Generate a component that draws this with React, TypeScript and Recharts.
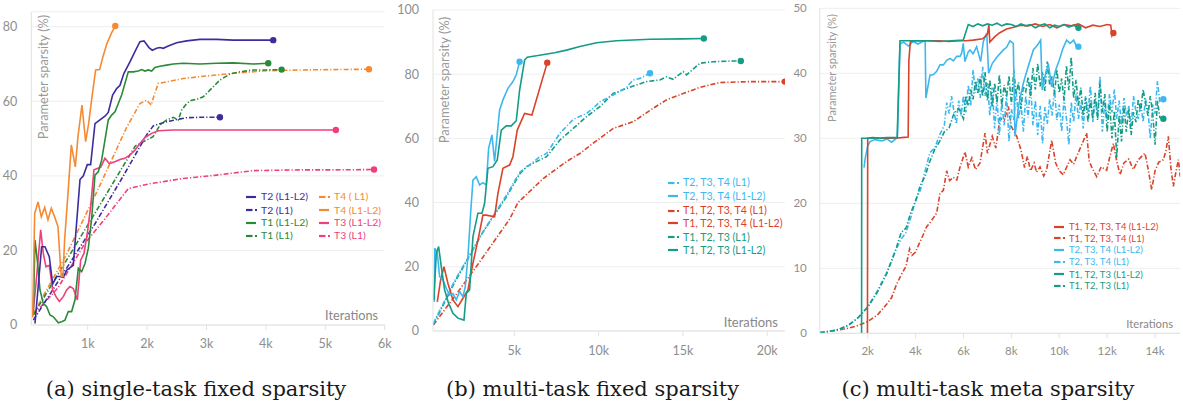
import React from 'react';
import { LineChart, Line, XAxis, YAxis, CartesianGrid } from 'recharts';

type P = [number, number];

// ---------- (a) single-task fixed sparsity ----------
const a_T2_L1L2: P[] = [[112,0.4],[224,21],[280,21],[353,18.3],[410,11],[477,13],[533,13],[589,12.8],[645,14.7],[757,16],[870,39],[926,40],[993,43],[1049,43],[1122,54],[1206,55],[1290,56],[1346,57],[1419,61.7],[1487,63.4],[1543,64.3],[1610,67.5],[1711,70.6],[1795,73.3],[1879,76],[1947,76.2],[2031,74.4],[2087,73.7],[2160,74.2],[2216,74.4],[2272,74.2],[2356,74.8],[2496,75.7],[2665,76.2],[2889,76.6],[3170,76.6],[3450,76.4],[3787,76.4],[4123,76.4]];
const a_T2_L1: P[] = [[84,1.3],[1117,27],[1600,40],[1992,51],[2104,53.4],[2216,54],[2328,54.5],[2496,55.1],[2665,55.6],[2889,55.7],[3226,55.7]];
const a_T1_L1L2: P[] = [[84,3],[112,22.8],[151,17.4],[196,9.4],[252,5.8],[309,4.9],[365,2.7],[421,2.2],[505,0.6],[561,0.9],[617,1.3],[673,3.6],[729,3.6],[785,6.7],[842,15.2],[898,14.3],[954,16.5],[1010,20.6],[1066,28.6],[1122,40.2],[1178,41.1],[1234,44.2],[1290,49.6],[1346,55],[1403,56.3],[1459,57.2],[1515,59.4],[1571,61.7],[1627,64.8],[1683,67.9],[1767,67.9],[1851,68.1],[1907,68.5],[1964,68.1],[2020,68.4],[2076,68.1],[2132,69.1],[2216,69.4],[2328,69.7],[2440,70],[2609,70.2],[2889,70],[3170,70.2],[3450,70.3],[3787,70],[4039,70.2]];
const a_T1_L1: P[] = [[84,2.7],[1122,30],[1800,48],[2100,50.5],[2216,53.6],[2328,55],[2440,55.7],[2524,55],[2580,57.6],[2665,59.4],[2749,60.3],[2833,60.5],[2945,61.2],[3114,63.9],[3226,65.7],[3394,67.3],[3563,67.9],[3787,68.4],[4011,68.4],[4264,68.5]];
const a_T4_L1: P[] = [[84,3],[645,19],[1206,37.5],[1655,53],[1880,59.4],[1990,60.3],[2070,59],[2110,61.2],[2188,64.8],[2328,65.2],[2609,66.1],[2889,66.6],[3450,67.5],[4011,68.2],[4572,68.4],[5130,68.5],[5735,68.6]];
const a_T4_L1L2: P[] = [[73,2],[107,29.9],[163,33],[219,29],[275,31.5],[331,28.2],[387,31.3],[443,29],[499,26.4],[539,16.5],[555,13],[583,13],[611,22.8],[668,35.3],[724,48.3],[791,42.4],[836,50.5],[903,59],[965,49.2],[1015,54],[1072,61.2],[1133,68.4],[1200,68.5],[1257,72],[1324,75.5],[1397,78.2],[1464,80.2]];
const a_T3_L1L2: P[] = [[84,4],[140,13],[208,25.5],[252,19.2],[297,15.6],[353,16],[410,9.4],[466,7.6],[522,6.3],[589,7.6],[645,9.4],[701,10.3],[757,9.8],[825,6.7],[881,17.4],[937,19.2],[993,24.6],[1049,31.7],[1105,41.6],[1161,42],[1217,42.3],[1290,44.7],[1363,43.3],[1459,43.8],[1543,44.4],[1627,44.7],[1711,45.6],[1795,46.9],[1879,48.7],[1964,50.3],[2076,51.4],[2188,52.1],[2440,52.3],[3450,52.3],[5178,52.3]];
const a_T3_L1: P[] = [[84,2.7],[500,10],[954,21.9],[1290,28.5],[1683,36.6],[2048,37.9],[2609,39.3],[3170,40.2],[3787,41.4],[4572,41.6],[5130,41.6],[5820,41.7]];

// ---------- (b) multi-task fixed sparsity ----------
const b_234_L1: P[] = [[200,2.4],[1500,16],[3162,31],[4500,42],[5335,49.5],[5730,51],[6520,54.3],[6916,55.3],[7706,61.6],[8497,65.9],[9287,67.8],[9682,69.4],[10078,71.4],[10868,73.5],[11658,75.9],[12054,78.2],[12449,78.7],[13049,80.3]];
const b_234_L1L2: P[] = [[250,9],[290,25.8],[435,24.2],[573,16.9],[771,15.9],[968,13.3],[1166,11.2],[1363,11.7],[1561,9.7],[1759,12.3],[1956,10.7],[2095,13.8],[2253,23.2],[2411,36.7],[2549,47],[2746,48.1],[2944,45.5],[3142,46.2],[3339,45.5],[3478,56.9],[3675,61.1],[3833,52.8],[3992,61.6],[4130,68.8],[4327,72],[4624,75.6],[4920,77.7],[5118,79.8],[5315,83.9]];
const b_1234_L1: P[] = [[198,1.9],[1500,11],[2944,21.5],[4742,35],[5217,40],[6718,47.5],[8102,52.8],[8892,55.3],[9682,58.5],[10868,63.1],[12054,65.2],[13240,69.4],[14030,72],[15018,74],[16006,75.9],[17191,77.4],[18970,77.7],[21044,77.7]];
const b_1234_L1L2: P[] = [[435,9.1],[632,15.9],[830,20],[1067,14.8],[1363,9.7],[1660,7.6],[1956,10.2],[2253,12.8],[2549,21.1],[2845,28.3],[3142,36.1],[3339,36.1],[3833,35.6],[4031,42.9],[4327,50.7],[4723,51.7],[4920,54.3],[5177,62.6],[5612,67.8],[6046,67.3],[6956,83.6]];
const b_123_L1: P[] = [[200,2],[1500,15.5],[3162,31],[4500,41.5],[5335,49],[5730,51.2],[6520,53.3],[6916,54.3],[7706,59.5],[8497,63.1],[9287,66.8],[10078,69.9],[10868,74],[12054,76.3],[12844,77.7],[13635,78.2],[14030,79.2],[14425,78.4],[15018,80.8],[15215,79.8],[16006,83.4],[16796,83.9],[17982,84.1],[18436,84.1]];
const b_123_L1L2: P[] = [[230,9.7],[375,24.2],[514,26.3],[672,20],[869,12.8],[1107,8.6],[1363,5.5],[1660,4],[2016,3.4],[2154,11.7],[2351,12.8],[2549,29.4],[2845,36.7],[3083,36.7],[3241,39.8],[3438,50.7],[3735,51.2],[3992,53.3],[4229,62.6],[4525,63.9],[4821,63.9],[5118,65.5],[5315,75],[5612,84.4],[5770,85.3],[6402,85.8],[7390,86.7],[8102,87.5],[8892,88.6],[9880,89.8],[11066,90.4],[13042,90.9],[15018,91],[16243,91.1]];

// ---------- (c) multi-task meta sparsity ----------
const c_1234_L1L2: P[] = [[1990,0],[2000,30],[2200,30.1],[2600,30],[3000,30],[3400,30.1],[3690,30.2],[3720,42],[3780,44.8],[3900,45],[4200,45],[4600,45],[5000,45],[5400,44.9],[5800,45],[6100,45],[6400,45.1],[6800,45.3],[7000,46],[7060,47.5],[7100,44.8],[7300,45.6],[7500,46.2],[7800,46.8],[8100,47.1],[8400,47.4],[8700,47.3],[9000,47.6],[9300,47.2],[9600,47.5],[9900,47],[10200,47.5],[10500,47.3],[10800,47.6],[11100,47],[11400,47.4],[11700,47.2],[12000,47.5],[12150,47.4],[12200,45.8],[12260,46.2]];
const c_1234_L1: P[] = [[0,0.1],[400,0.3],[800,0.5],[1200,0.8],[1600,1.2],[2000,1.8],[2400,2.8],[2800,4.5],[3000,5.5],[3200,7.5],[3400,9],[3600,10.3],[3750,13],[3850,12],[4000,12.5],[4150,13.8],[4300,15],[4460,16.4],[4600,17],[4750,17.8],[4880,18.5],[5020,21.5],[5160,22],[5298,25],[5420,23.5],[5576,24],[5720,23.6],[5850,25.5],[6063,27.9],[6200,25.6],[6350,27],[6500,25.2],[6690,26.2],[6900,30.8],[7000,27.7],[7200,30.3],[7350,28.5],[7525,33.1],[7700,32.8],[7874,34.9],[8000,31.8],[8222,30.3],[8400,28.2],[8550,25.5],[8667,27.2],[8800,25],[8950,26.2],[9050,24.8],[9196,25.6],[9350,24.2],[9470,25.1],[9683,29.7],[9850,26.2],[10000,25],[10170,24.4],[10300,25.5],[10450,26.7],[10600,26],[10727,27.2],[10900,28.7],[11144,30.8],[11250,26.5],[11350,25.6],[11562,24.1],[11750,25.6],[11980,25.1],[12100,27],[12258,29.2],[12400,26.5],[12536,24.4],[12700,26.2],[12900,26.8],[13093,25.2],[13300,26.7],[13580,27.7],[13700,25.5],[13858,22.1],[14000,25],[14150,26.3],[14346,26.7],[14450,28],[14555,30.3],[14660,25.5],[14764,22.6],[14870,24.8],[14975,26.7],[15050,24.1]];
const c_234_L1L2: P[] = [[1846,25.5],[1900,27],[2000,28.8],[2100,29.5],[2300,29.8],[2600,29.6],[2800,29.9],[3000,29.4],[3200,30],[3240,30],[3350,44.5],[3500,44.8],[3700,44.2],[3900,44.9],[4100,44.5],[4300,44.9],[4400,45],[4430,36.2],[4600,39.7],[4750,39.8],[4880,40.3],[5020,41.3],[5160,41.3],[5300,42],[5440,42.3],[5580,41.9],[5715,42.6],[5855,42.6],[5925,43.1],[5990,44.6],[6060,41.8],[6200,43.3],[6272,43.6],[6400,43],[6550,44.1],[6717,41.8],[6830,44.9],[6970,46.2],[7050,40],[7200,41.5],[7400,42.5],[7665,43.6],[7800,44],[7943,45],[8080,44.6],[8150,30.3],[8300,35],[8500,38.5],[8700,41],[8917,43.6],[9100,44.4],[9223,45.1],[9290,37.4],[9400,39.5],[9543,41.5],[9683,37.9],[9850,40.5],[10000,42],[10150,43.8],[10308,45.1],[10450,44.6],[10600,45.1],[10700,44.3],[10797,44.1]];
const c_234_L1: P[] = [[0,0.1],[400,0.3],[800,0.6],[1200,1.2],[1600,2.4],[2000,4.1],[2400,6.5],[2800,9.4],[3200,13],[3400,14.5],[3600,15.5],[3800,17.8],[4000,20.5],[4200,22],[4400,25],[4600,27.8],[4800,28.5],[5000,30.5],[5200,32],[5300,35.5],[5400,33.8],[5500,36.5],[5600,34.2],[5700,32.2],[5800,35.8],[5900,33.5],[6000,36.5],[6100,34],[6200,38.2],[6300,35],[6400,40.5],[6500,37],[6600,39.2],[6700,36.2],[6800,41],[6900,36.5],[7000,38.5],[7100,33.5],[7200,37.8],[7300,31.5],[7400,36],[7500,30.5],[7600,35.5],[7700,32],[7800,36.8],[7900,29.5],[8000,34.5],[8100,32.8],[8200,37.2],[8300,33],[8400,35.5],[8500,31],[8600,36.5],[8700,33.2],[8800,38.6],[8900,32],[9000,35.8],[9100,30.5],[9200,35],[9300,29.2],[9400,34.8],[9500,32.2],[9600,36],[9700,33.5],[9800,37.5],[9900,32.8],[10000,35.2],[10100,31],[10200,36.2],[10300,33],[10400,29],[10500,35.5],[10600,32.5],[10700,36.8],[10800,33],[10900,35.5],[11000,31.5],[11100,36.5],[11200,34],[11300,38],[11400,32.5],[11500,36],[11600,33.5],[11700,39.5],[11800,31],[11900,35.5],[12000,32.8],[12100,36.8],[12200,34],[12300,37.5],[12400,33],[12500,35.8],[12600,32],[12700,36.2],[12800,33.5],[12900,35],[13000,31.8],[13100,36.5],[13200,34.2],[13300,33],[13400,35.5],[13500,32.5],[13600,36],[13700,34.5],[13800,30],[13900,35.2],[14000,33.8],[14100,38.8],[14200,35.5],[14346,36]];
const c_123_L1L2: P[] = [[1745,0],[1750,30],[2000,30],[2400,30],[2800,30.1],[3230,30.1],[3350,45],[3600,45],[4000,45],[4500,45],[5000,44.9],[5500,45],[5990,45.1],[6200,47.5],[6400,47.2],[6600,47.6],[6800,47.3],[7000,47.6],[7200,47.4],[7400,47.7],[7600,47.3],[7800,47.6],[8000,47.5],[8200,47.2],[8400,47.6],[8600,47.3],[8800,47.5],[9000,47],[9200,47.4],[9400,47.6],[9600,47],[9800,47.4],[10000,47.2],[10200,47.5],[10400,47.1],[10600,47.4],[10800,47]];
const c_123_L1: P[] = [[0,0.1],[400,0.3],[800,0.6],[1200,1.3],[1600,2.4],[2000,4],[2400,6.3],[2800,9.2],[3200,13.2],[3400,15.5],[3600,16.2],[3800,18.6],[4000,20.3],[4200,22.8],[4400,24.2],[4600,26.5],[4800,28.3],[5000,29.5],[5200,31],[5400,31.6],[5600,33.8],[5800,34.6],[6000,33],[6100,36.5],[6200,35],[6300,37.5],[6400,36],[6500,38.8],[6600,37],[6700,39.5],[6800,36.5],[6900,40.2],[7000,35.8],[7100,39],[7200,34.8],[7300,38.5],[7400,35.5],[7500,39.8],[7600,35],[7700,38.2],[7800,36.4],[7900,39.6],[8000,35.2],[8100,40.5],[8200,36.8],[8300,38.6],[8400,34.5],[8500,38],[8600,37.2],[8700,39.4],[8800,36.5],[8900,40.8],[9000,37.5],[9100,41.5],[9200,38],[9300,40.2],[9400,37.3],[9500,41.8],[9600,38.2],[9700,39.5],[9800,36.8],[9900,40.6],[10000,37],[10100,39.2],[10200,35.8],[10300,41.2],[10400,37.4],[10500,42.5],[10600,36.2],[10700,39],[10800,35],[10900,37.8],[11000,33.5],[11100,36.2],[11200,32.5],[11300,35.8],[11400,33],[11500,37],[11600,32.8],[11700,38.5],[11800,34],[11900,36.8],[12000,31],[12100,35.5],[12200,30],[12300,34.2],[12400,27],[12500,33.5],[12600,29.5],[12700,35],[12800,31],[12900,34.5],[13000,30.5],[13100,34],[13200,32.5],[13300,36],[13400,34.2],[13500,37.5],[13600,35.5],[13700,33.5],[13800,36.5],[13900,34],[14000,29],[14100,35.8],[14200,33.2],[14346,33]];

const aTicksX = [1000, 2000, 3000, 4000, 5000, 6000];
const aTicksY = [0, 20, 40, 60, 80];
const bTicksX = [5000, 10000, 15000, 20000];
const bTicksY = [0, 20, 40, 60, 80, 100];
const cTicksX = [2000, 4000, 6000, 8000, 10000, 12000, 14000];
const cTicksY = [0, 10, 20, 30, 40, 50];

const PURPLE = '#3b2d9e';
const GREEN = '#2b8a38';
const ORANGE = '#f58a33';
const PINK = '#f03f7b';
const LBLUE = '#3db8ee';
const RED = '#d9432b';
const TEAL = '#149c86';

const FONT = 'Lato, "Noto Sans", sans-serif';
const GRID = '#eeeeee';
const AXIS = '#e2e2e2';
const TICK = '#8e8e8e';
const DASH = '5 2 1.2 2';

type Series = { name: string; data: P[]; color: string; dashed: boolean; endDot?: boolean };

const aSeries: Series[] = [
  { name: 'T3 (L1)', data: a_T3_L1, color: PINK, dashed: true },
  { name: 'T4 ( L1)', data: a_T4_L1, color: ORANGE, dashed: true },
  { name: 'T1 (L1)', data: a_T1_L1, color: GREEN, dashed: true },
  { name: 'T2 (L1)', data: a_T2_L1, color: PURPLE, dashed: true },
  { name: 'T3 (L1-L2)', data: a_T3_L1L2, color: PINK, dashed: false },
  { name: 'T1 (L1-L2)', data: a_T1_L1L2, color: GREEN, dashed: false },
  { name: 'T2 (L1-L2)', data: a_T2_L1L2, color: PURPLE, dashed: false },
  { name: 'T4 (L1-L2)', data: a_T4_L1L2, color: ORANGE, dashed: false },
];
const bSeries: Series[] = [
  { name: 'T1, T2, T3, T4 (L1)', data: b_1234_L1, color: RED, dashed: true },
  { name: 'T1, T2, T3 (L1)', data: b_123_L1, color: TEAL, dashed: true },
  { name: 'T2, T3, T4 (L1)', data: b_234_L1, color: LBLUE, dashed: true },
  { name: 'T1, T2, T3, T4 (L1-L2)', data: b_1234_L1L2, color: RED, dashed: false },
  { name: 'T2, T3, T4 (L1-L2)', data: b_234_L1L2, color: LBLUE, dashed: false },
  { name: 'T1, T2, T3 (L1-L2)', data: b_123_L1L2, color: TEAL, dashed: false },
];
const cSeries: Series[] = [
  { name: 'T1, T2, T3, T4 (L1)', data: c_1234_L1, color: RED, dashed: true, endDot: false },
  { name: 'T2, T3, T4 (L1)', data: c_234_L1, color: LBLUE, dashed: true },
  { name: 'T1, T2, T3 (L1)', data: c_123_L1, color: TEAL, dashed: true },
  { name: 'T2, T3, T4 (L1-L2)', data: c_234_L1L2, color: LBLUE, dashed: false },
  { name: 'T1, T2, T3, T4 (L1-L2)', data: c_1234_L1L2, color: RED, dashed: false },
  { name: 'T1, T2, T3 (L1-L2)', data: c_123_L1L2, color: TEAL, dashed: false },
];

const kFmt = (v: number) => `${v / 1000}k`;
const toPts = (d: P[]) => d.map(([x, y]) => ({ x, y }));

const endDot = (n: number, color: string, show: boolean) => (p: any) => {
  const k = `d${p.index}`;
  if (!show || p.index !== n - 1) return <g key={k} />;
  return <circle key={k} cx={p.cx} cy={p.cy} r={3.2} fill={color} stroke="none" />;
};

type PanelProps = {
  left: number;
  width: number;
  height: number;
  margin: { top: number; right: number; bottom: number; left: number };
  xDomain: [number, number];
  xTicks: number[];
  yDomain: [number, number];
  yTicks: number[];
  series: Series[];
  fs: number;
  xH: number;
  xMargin: number;
  yMargin: number;
};

function Panel(p: PanelProps) {
  return (
    <div style={{ position: 'absolute', left: p.left, top: 0, width: p.width, height: p.height }}>
      <LineChart width={p.width} height={p.height} margin={p.margin}>
        <CartesianGrid vertical={false} stroke={GRID} />
        <XAxis
          type="number"
          dataKey="x"
          domain={p.xDomain}
          ticks={p.xTicks}
          allowDataOverflow
          tickFormatter={kFmt}
          axisLine={{ stroke: AXIS }}
          tickLine={{ stroke: AXIS }}
          tickSize={5}
          tickMargin={p.xMargin}
          height={p.xH}
          tick={{ fill: TICK, fontSize: p.fs, fontFamily: FONT }}
        />
        <YAxis
          type="number"
          domain={p.yDomain}
          ticks={p.yTicks}
          allowDataOverflow
          width={20}
          tickSize={0}
          tickMargin={p.yMargin}
          axisLine={{ stroke: AXIS }}
          tickLine={false}
          tick={{ fill: TICK, fontSize: p.fs, fontFamily: FONT }}
        />
        {p.series.map((s) => (
          <Line
            key={s.name}
            data={toPts(s.data)}
            dataKey="y"
            type="linear"
            stroke={s.color}
            strokeWidth={1.6}
            strokeDasharray={s.dashed ? DASH : undefined}
            dot={endDot(s.data.length, s.color, s.endDot !== false)}
            activeDot={false}
            isAnimationActive={false}
          />
        ))}
      </LineChart>
    </div>
  );
}

function LegendRow({ s, fs }: { s: Series; fs: number }) {
  return (
    <div style={{ display: 'flex', alignItems: 'center', height: 0, position: 'relative' }}>
      <svg width={12} height={6} style={{ position: 'absolute', left: -15, top: -3 }}>
        {s.dashed ? (
          <>
            <line x1={0} y1={3} x2={6.5} y2={3} stroke={s.color} strokeWidth={2.2} />
            <line x1={9} y1={3} x2={11} y2={3} stroke={s.color} strokeWidth={2.2} />
          </>
        ) : (
          <line x1={0} y1={3} x2={10} y2={3} stroke={s.color} strokeWidth={2.2} />
        )}
      </svg>
      <span style={{ color: s.color, fontSize: fs, fontFamily: FONT, whiteSpace: 'nowrap', lineHeight: 1, transform: 'translateY(-0.5px)' }}>
        {s.name}
      </span>
    </div>
  );
}

function Legend({ x, ys, items, fs }: { x: number; ys: number[]; items: Series[]; fs: number }) {
  return (
    <>
      {items.map((s, i) => (
        <div key={s.name + i} style={{ position: 'absolute', left: x, top: ys[i] }}>
          <LegendRow s={s} fs={fs} />
        </div>
      ))}
    </>
  );
}

const find = (arr: Series[], name: string, dashed: boolean) => arr.find((s) => s.name === name && s.dashed === dashed)!;

function Txt({ x, y, children, size, anchor = 'start', rotate = false, color = '#9a9a9a', family = FONT }: any) {
  const tx = anchor === 'end' ? '-100%' : anchor === 'middle' ? '-50%' : '0';
  return (
    <div
      style={{
        position: 'absolute',
        left: x,
        top: y,
        fontSize: size,
        fontFamily: family,
        color,
        whiteSpace: 'nowrap',
        lineHeight: 1,
        transform: rotate ? 'translate(-50%,-50%) rotate(-90deg)' : `translate(${tx},-50%)`,
      }}
    >
      {children}
    </div>
  );
}

export default function App() {
  const aLegL = [find(aSeries, 'T2 (L1-L2)', false), find(aSeries, 'T2 (L1)', true), find(aSeries, 'T1 (L1-L2)', false), find(aSeries, 'T1 (L1)', true)];
  const aLegR = [find(aSeries, 'T4 ( L1)', true), find(aSeries, 'T4 (L1-L2)', false), find(aSeries, 'T3 (L1-L2)', false), find(aSeries, 'T3 (L1)', true)];
  const bLeg = [
    find(bSeries, 'T2, T3, T4 (L1)', true),
    find(bSeries, 'T2, T3, T4 (L1-L2)', false),
    find(bSeries, 'T1, T2, T3, T4 (L1)', true),
    find(bSeries, 'T1, T2, T3, T4 (L1-L2)', false),
    find(bSeries, 'T1, T2, T3 (L1)', true),
    find(bSeries, 'T1, T2, T3 (L1-L2)', false),
  ];
  const cLeg = [
    find(cSeries, 'T1, T2, T3, T4 (L1-L2)', false),
    find(cSeries, 'T1, T2, T3, T4 (L1)', true),
    find(cSeries, 'T2, T3, T4 (L1-L2)', false),
    find(cSeries, 'T2, T3, T4 (L1)', true),
    find(cSeries, 'T1, T2, T3 (L1-L2)', false),
    find(cSeries, 'T1, T2, T3 (L1)', true),
  ];
  const serif = '"DejaVu Serif", "Liberation Serif", serif';
  return (
    <div style={{ position: 'absolute', left: 0, top: 0, width: 1183, height: 410, background: '#fff', overflow: 'hidden' }}>
      <Panel
        left={0}
        width={400}
        height={360}
        margin={{ top: 11.8, right: 15.3, bottom: 5, left: 11.3 }}
        xDomain={[50, 6000]}
        xTicks={aTicksX}
        yDomain={[0, 84]}
        yTicks={aTicksY}
        series={aSeries}
        fs={12.5}
        xH={30}
        xMargin={9}
        yMargin={14}
      />
      <Panel
        left={394}
        width={406}
        height={360}
        margin={{ top: 10, right: 15.1, bottom: 5, left: 19 }}
        xDomain={[180, 21050]}
        xTicks={bTicksX}
        yDomain={[0, 100]}
        yTicks={bTicksY}
        series={bSeries}
        fs={12.5}
        xH={24}
        xMargin={10}
        yMargin={14}
      />
      <Panel
        left={790}
        width={393}
        height={360}
        margin={{ top: 8.3, right: 2.8, bottom: 4.7, left: 9.8 }}
        xDomain={[0, 15050]}
        xTicks={cTicksX}
        yDomain={[0, 50]}
        yTicks={cTicksY}
        series={cSeries}
        fs={11.5}
        xH={22}
        xMargin={9}
        yMargin={13}
      />

      <Txt x={42.5} y={77} size={12.8} rotate>Parameter sparsity (%)</Txt>
      <Txt x={444} y={79.5} size={13} rotate>Parameter sparsity (%)</Txt>
      <Txt x={832} y={68} size={11.1} rotate>Parameter sparsity (%)</Txt>

      <Txt x={378} y={315} size={12.7} anchor="end" color="#888">Iterations</Txt>
      <Txt x={778} y={322} size={13} anchor="end" color="#888">Iterations</Txt>
      <Txt x={1173} y={324} size={11.2} anchor="end" color="#888">Iterations</Txt>

      <Legend x={261} ys={[196.7, 210, 222.7, 235.7]} items={aLegL} fs={10.4} />
      <Legend x={334} ys={[196.7, 210, 222.7, 235.7]} items={aLegR} fs={10.4} />
      <Legend x={683} ys={[182.7, 196, 210.7, 223.3, 237.3, 250]} items={bLeg} fs={10.6} />
      <Legend x={1069} ys={[226.7, 238.3, 250, 261.7, 274.3, 286]} items={cLeg} fs={9.5} />

      <Txt x={196} y={389} size={21} anchor="middle" color="#1a1a1a" family={serif}>(a) single-task fixed sparsity</Txt>
      <Txt x={592.5} y={389} size={21} anchor="middle" color="#1a1a1a" family={serif}>(b) multi-task fixed sparsity</Txt>
      <Txt x={988} y={389} size={21} anchor="middle" color="#1a1a1a" family={serif}>(c) multi-task meta sparsity</Txt>
    </div>
  );
}
